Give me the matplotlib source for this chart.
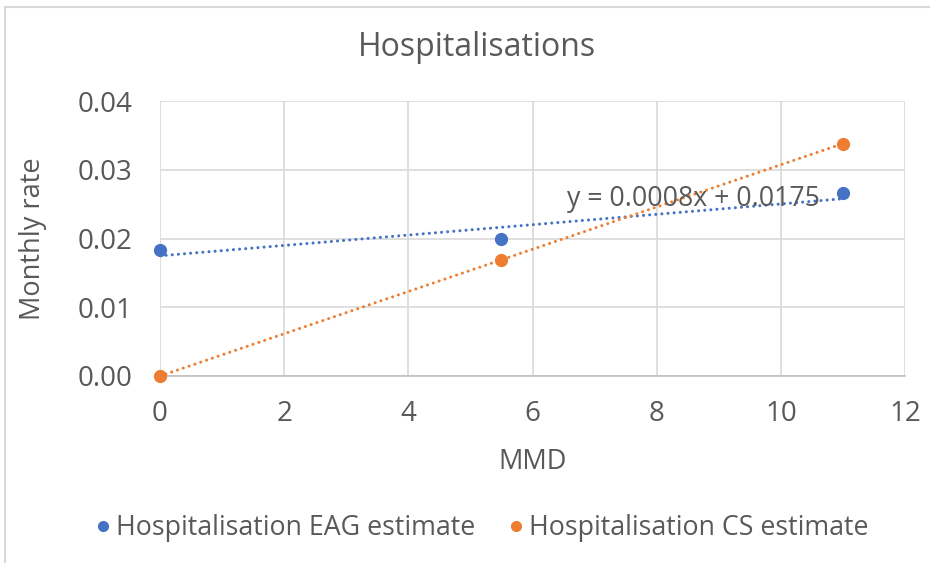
import numpy as np
import matplotlib
matplotlib.use("Agg")
import matplotlib.pyplot as plt
from matplotlib.lines import Line2D

plt.rcParams['font.family'] = ['Open Sans', 'DejaVu Sans']

# Data
mmd = [0, 5.5, 11]
eag_estimate = [0.0183, 0.0200, 0.0266]
cs_estimate = [0.0, 0.0169, 0.0338]
series_names = ["Hospitalisation EAG estimate", "Hospitalisation CS estimate"]
x_ticks = [0, 2, 4, 6, 8, 10, 12]
y_ticks = [0.00, 0.01, 0.02, 0.03, 0.04]

blue = "#4472C4"
orange = "#ED7D31"
text_col = "#595959"
grid_col = "#D9D9D9"

fig = plt.figure(figsize=(9.30, 5.63), dpi=100)
fig.patch.set_facecolor("white")

# Outer chart border (left and top visible)
fig.add_artist(Line2D([5/930, 5/930], [0, 1 - 7/563], transform=fig.transFigure, color=grid_col, lw=1.5))
fig.add_artist(Line2D([5/930, 1], [1 - 7/563, 1 - 7/563], transform=fig.transFigure, color=grid_col, lw=1.5))

ax = fig.add_axes([160/930, 1 - 376/563, (905 - 160)/930, (376 - 101)/563])

ax.set_xlim(0, 12)
ax.set_ylim(0, 0.04)
ax.set_xticks(x_ticks)
ax.set_yticks(y_ticks)
ax.set_yticklabels([f"{v:.2f}" for v in y_ticks])
ax.grid(True, color=grid_col, lw=1.2)
ax.set_axisbelow(True)
for s in ["top", "right", "left"]:
    ax.spines[s].set_visible(False)
ax.spines["bottom"].set_color("#BFBFBF")
ax.spines["bottom"].set_linewidth(1.2)
ax.tick_params(axis="both", length=0, labelsize=20, colors=text_col)
ax.tick_params(axis="x", pad=17)
ax.tick_params(axis="y", pad=20)

# Trendlines (linear fits, dotted)
xs = np.array([0, 11])
for yv, col in [(eag_estimate, blue), (cs_estimate, orange)]:
    m, b = np.polyfit(mmd, yv, 1)
    ax.plot(xs, m * xs + b, linestyle=(0, (0.01, 2.0)), color=col, lw=2.2,
            dash_capstyle="round", zorder=2)

m_eag, b_eag = np.polyfit(mmd, eag_estimate, 1)

ax.plot(mmd, eag_estimate, "o", color=blue, ms=8.5, label=series_names[0], zorder=3, clip_on=False)
ax.plot(mmd, cs_estimate, "o", color=orange, ms=8.5, label=series_names[1], zorder=3, clip_on=False)

ax.text(8.60, 0.0258, f"y = {m_eag:.4f}x + {b_eag:.4f}", fontsize=19.2, color=text_col,
        ha="center", va="center", zorder=4)

fig.text(477/930, 1 - 47/563, "Hospitalisations", fontsize=23, color=text_col,
         ha="center", va="center")
ax.set_xlabel("MMD", fontsize=19.5, color=text_col)
ax.xaxis.label.set_va("center")
ax.xaxis.set_label_coords(0.5, (376 - 462) / 275)
ax.set_ylabel("Monthly rate", fontsize=19.5, color=text_col)
ax.yaxis.label.set_va("center")
ax.yaxis.set_label_coords((33 - 160) / 745, 0.5)

leg = fig.legend(handles=[
    Line2D([], [], marker="o", color=blue, ls="none", ms=7),
    Line2D([], [], marker="o", color=orange, ls="none", ms=7)],
    labels=series_names, loc="center", bbox_to_anchor=(479/930, 1 - 528/563),
    ncol=2, frameon=False, fontsize=19.3, handletextpad=0.0, columnspacing=1.0,
    handlelength=1.0)
for t in leg.get_texts():
    t.set_color(text_col)

fig.savefig("out.png", dpi=100, facecolor="white")
